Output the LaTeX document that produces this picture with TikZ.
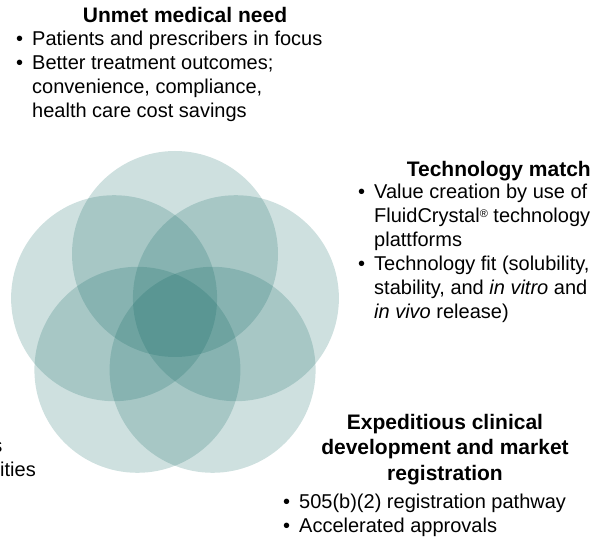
\documentclass[tikz,border=0pt]{standalone}
\usepackage{fontspec}
\setmainfont{Liberation Sans}
\usetikzlibrary{positioning}

\definecolor{petalteal}{RGB}{10,100,95}

\newcommand{\bul}{\makebox[16pt][l]{\textbullet}}
\newcommand{\ind}{\hspace*{16pt}}

\begin{document}
\begin{tikzpicture}[
    x=1pt, y=-1pt,
    petal/.style={circle, fill=petalteal, fill opacity=0.2, minimum size=206pt, inner sep=0pt},
    heading/.style={font=\bfseries\fontsize{21}{25.5}\selectfont, inner sep=0pt, align=center},
    bullets/.style={font=\fontsize{20}{24}\selectfont, inner sep=0pt, align=left, anchor=north west},
    fragment/.style={font=\fontsize{20}{24}\selectfont, inner sep=0pt, anchor=base east}
]
\useasboundingbox (0,0) rectangle (610,537);

% -------------------------
% FIVE PETALS
% -------------------------
\node[petal] (Top) at (175,254) {};
\node[petal] (Left) at (114.1,298.2) {};
\node[petal] (Right) at (235.9,298.2) {};
\node[petal] (LowLeft) at (137.4,369.8) {};
\node[petal] (LowRight) at (212.6,369.8) {};

% -------------------------
% UNMET MEDICAL NEED
% -------------------------
\node[heading, anchor=base] (NeedHead) at (185,23) {Unmet medical need};
\node[bullets] (NeedList) at (16,30.4) {
    \bul Patients and prescribers in focus\\
    \bul Better treatment outcomes;\\
    \ind convenience, compliance,\\
    \ind health care cost savings
};

% -------------------------
% TECHNOLOGY MATCH
% -------------------------
\node[heading, anchor=base east] (TechHead) at (591,177) {Technology match};
\node[bullets] (TechList) at (358,183.4) {
    \bul Value creation by use of\\
    \ind FluidCrystal\raisebox{5pt}{\fontsize{11}{11}\selectfont\textregistered} technology\\
    \ind plattforms\\
    \bul Technology fit (solubility,\\
    \ind stability, and \textit{in vitro} and\\
    \ind \textit{in vivo} release)
};

% -------------------------
% CLINICAL DEVELOPMENT
% -------------------------
\node[heading, anchor=north] (DevHead) at (445,414) {
    Expeditious clinical\\
    development and market\\
    registration
};
\node[bullets] (DevList) at (283,493.4) {
    \bul 505(b)(2) registration pathway\\
    \bul Accelerated approvals
};

% -------------------------
% CUT-OFF TEXT AT LEFT EDGE
% -------------------------
\node[fragment] (CutUpper) at (2.5,452) {s};
\node[fragment] (CutLower) at (36,476) {ities};

\end{tikzpicture}
\end{document}
